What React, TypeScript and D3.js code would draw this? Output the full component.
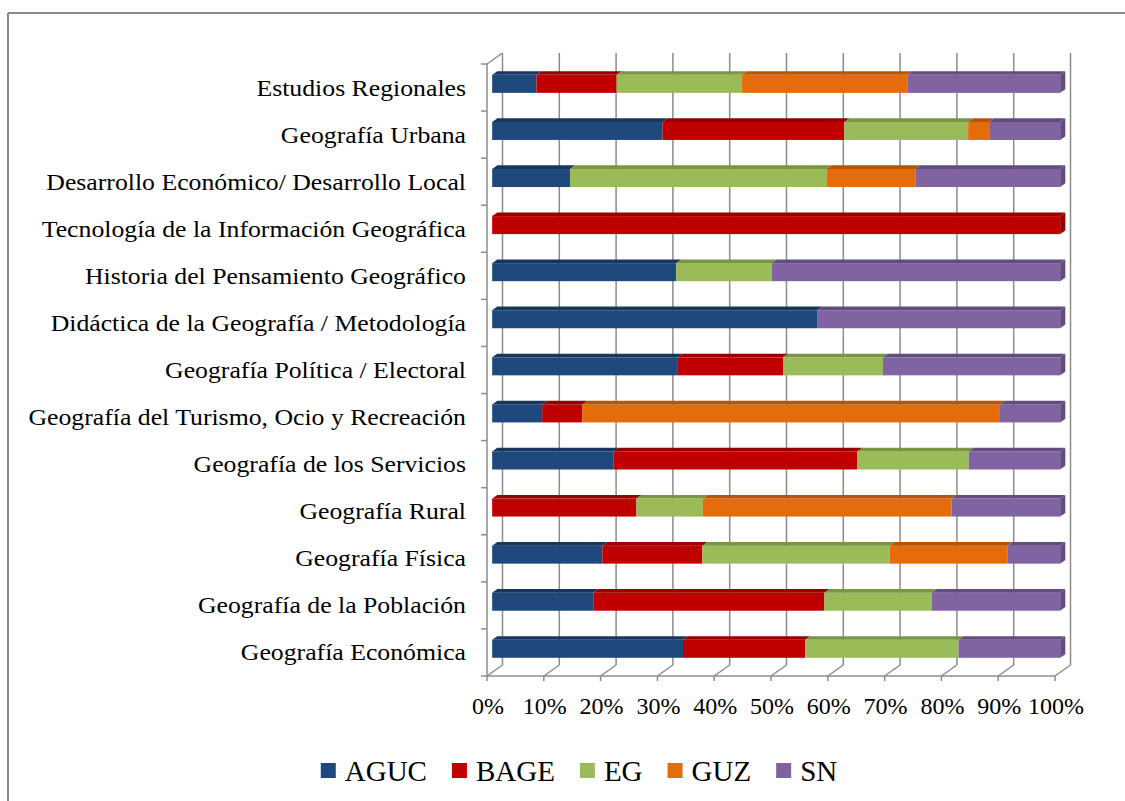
import React from 'react';
import * as d3 from 'd3';

const categories = [
  'Estudios Regionales',
  'Geografía Urbana',
  'Desarrollo Económico/ Desarrollo Local',
  'Tecnología de la Información Geográfica',
  'Historia del Pensamiento Geográfico',
  'Didáctica de la Geografía / Metodología',
  'Geografía Política / Electoral',
  'Geografía del Turismo, Ocio y Recreación',
  'Geografía de los Servicios',
  'Geografía Rural',
  'Geografía Física',
  'Geografía de la Población',
  'Geografía Económica',
];

const seriesNames = ['AGUC', 'BAGE', 'EG', 'GUZ', 'SN'];

// percentages per category, top to bottom
const aguc = [7.8, 30.0, 13.7, 0, 32.4, 57.2, 32.7, 8.8, 21.4, 0, 19.4, 17.8, 33.6];
const bage = [14.1, 32.0, 0, 100, 0, 0, 18.5, 7.1, 42.9, 25.4, 17.6, 40.7, 21.5];
const eg = [22.1, 21.8, 45.2, 0, 16.8, 0, 17.6, 0, 19.6, 11.7, 33.0, 18.9, 27.0];
const guz = [29.1, 3.7, 15.6, 0, 0, 0, 0, 73.5, 0, 43.8, 20.7, 0, 0];
const sn = [26.9, 12.5, 25.5, 0, 50.8, 42.8, 31.2, 10.6, 16.1, 19.1, 9.3, 22.6, 17.9];

const ticks = [0, 10, 20, 30, 40, 50, 60, 70, 80, 90, 100];

const frontColors = ['#1f497d', '#c00000', '#9bbb59', '#e46c0a', '#8064a2'];
const topColors = ['#17375e', '#960000', '#7a9543', '#b4550a', '#634d80'];

const FONT = '"Liberation Serif", "Times New Roman", serif';

// depth of the 3D box
const DX = 15.5;
const DY = -11;

const measure = (txt: string, size: number) => {
  const ctx = document.createElement('canvas').getContext('2d');
  if (!ctx) return txt.length * size * 0.6;
  ctx.font = `${size}px ${FONT}`;
  return ctx.measureText(txt).width;
};

const App = () => {
  const x = d3.scaleLinear().domain([0, 100]).range([487, 1055]);
  const y = d3.scaleBand().domain(categories).range([64, 676]);

  const rows = categories.map((c, i) => ({
    cat: c,
    AGUC: aguc[i],
    BAGE: bage[i],
    EG: eg[i],
    GUZ: guz[i],
    SN: sn[i],
  }));
  const stacked = d3.stack<any>().keys(seriesNames)(rows);

  // bar sits in the middle third of the depth
  const bdx = DX / 3;
  const bdy = DY / 3;
  const barH = 18;

  const grid = '#8c8c8c';

  // legend layout
  const legendSize = 29;
  const sq = 15;
  const widths = seriesNames.map((s) => measure(s, legendSize));
  const itemW = widths.map((w) => sq + 9 + w);
  const gap = 25;
  const totalW = d3.sum(itemW) + gap * (seriesNames.length - 1);
  let lx = 579 - totalW / 2;
  const legendX = itemW.map((w) => {
    const v = lx;
    lx += w + gap;
    return v;
  });

  return (
    <div style={{ position: 'absolute', left: 0, top: 0 }}>
      <svg width={1125} height={801} style={{ display: 'block', background: '#fff' }}>
        {/* outer frame */}
        <line x1={8} y1={13} x2={1125} y2={13} stroke="#888" strokeWidth={2} />
        <line x1={8} y1={13} x2={8} y2={801} stroke="#888" strokeWidth={2} />

        {/* back wall grid */}
        {ticks.map((t) => (
          <g key={'g' + t}>
            <line x1={x(t) + DX} x2={x(t) + DX} y1={64 + DY} y2={676 + DY} stroke={grid} strokeWidth={1.5} />
            <line x1={x(t)} x2={x(t) + DX} y1={676} y2={676 + DY} stroke={grid} strokeWidth={1.5} />
            <line x1={x(t)} x2={x(t)} y1={676} y2={681} stroke={grid} strokeWidth={1.5} />
          </g>
        ))}
        {/* floor front edge */}
        <line x1={x(0)} x2={x(100)} y1={676} y2={676} stroke={grid} strokeWidth={1.5} />
        {/* left axis */}
        <line x1={x(0)} x2={x(0)} y1={64} y2={676} stroke={grid} strokeWidth={1.5} />
        <line x1={x(0)} x2={x(0) + DX} y1={64} y2={64 + DY} stroke={grid} strokeWidth={1.5} />
        {categories.map((c) => (
          <line key={'t' + c} x1={x(0) - 6} x2={x(0)} y1={y(c)!} y2={y(c)!} stroke={grid} strokeWidth={1.5} />
        ))}
        <line x1={x(0) - 6} x2={x(0)} y1={676} y2={676} stroke={grid} strokeWidth={1.5} />

        {/* bars */}
        {categories.map((c, i) => {
          const cy = y(c)! + y.bandwidth() / 2 + bdy;
          const top = cy - barH / 2;
          return (
            <g key={'b' + c}>
              {stacked.map((s, k) => {
                const [a, b] = s[i];
                if (b - a <= 0) return null;
                const x0 = x(a) + bdx;
                const x1 = x(b) + bdx;
                const isLast = b >= 99.95;
                return (
                  <g key={s.key}>
                    <rect x={x0} y={top} width={x1 - x0} height={barH} fill={frontColors[k]} />
                    <path
                      d={`M${x0},${top}L${x1},${top}L${x1 + bdx},${top + bdy}L${x0 + bdx},${top + bdy}Z`}
                      fill={topColors[k]}
                    />
                    {isLast && (
                      <path
                        d={`M${x1},${top}L${x1 + bdx},${top + bdy}L${x1 + bdx},${top + bdy + barH}L${x1},${top + barH}Z`}
                        fill={topColors[k]}
                      />
                    )}
                  </g>
                );
              })}
            </g>
          );
        })}

        {/* category labels */}
        {categories.map((c) => (
          <text
            key={'l' + c}
            transform={`translate(466,${y(c)! + y.bandwidth() / 2 + 8}) scale(1.12,1)`}
            textAnchor="end"
            fontFamily={FONT}
            fontSize={23}
            fill="#000"
          >
            {c}
          </text>
        ))}

        {/* x tick labels */}
        {ticks.map((t) => (
          <text key={'x' + t} x={x(t) + 1} y={714} textAnchor="middle" fontFamily={FONT} fontSize={24} fill="#000">
            {t}%
          </text>
        ))}

        {/* legend */}
        {seriesNames.map((s, k) => (
          <g key={'lg' + s} transform={`translate(${legendX[k]},0)`}>
            <rect x={0} y={763} width={sq} height={sq} fill={frontColors[k]} />
            <text x={sq + 9} y={781} fontFamily={FONT} fontSize={legendSize} fill="#000">
              {s}
            </text>
          </g>
        ))}
      </svg>
    </div>
  );
};

export default App;
